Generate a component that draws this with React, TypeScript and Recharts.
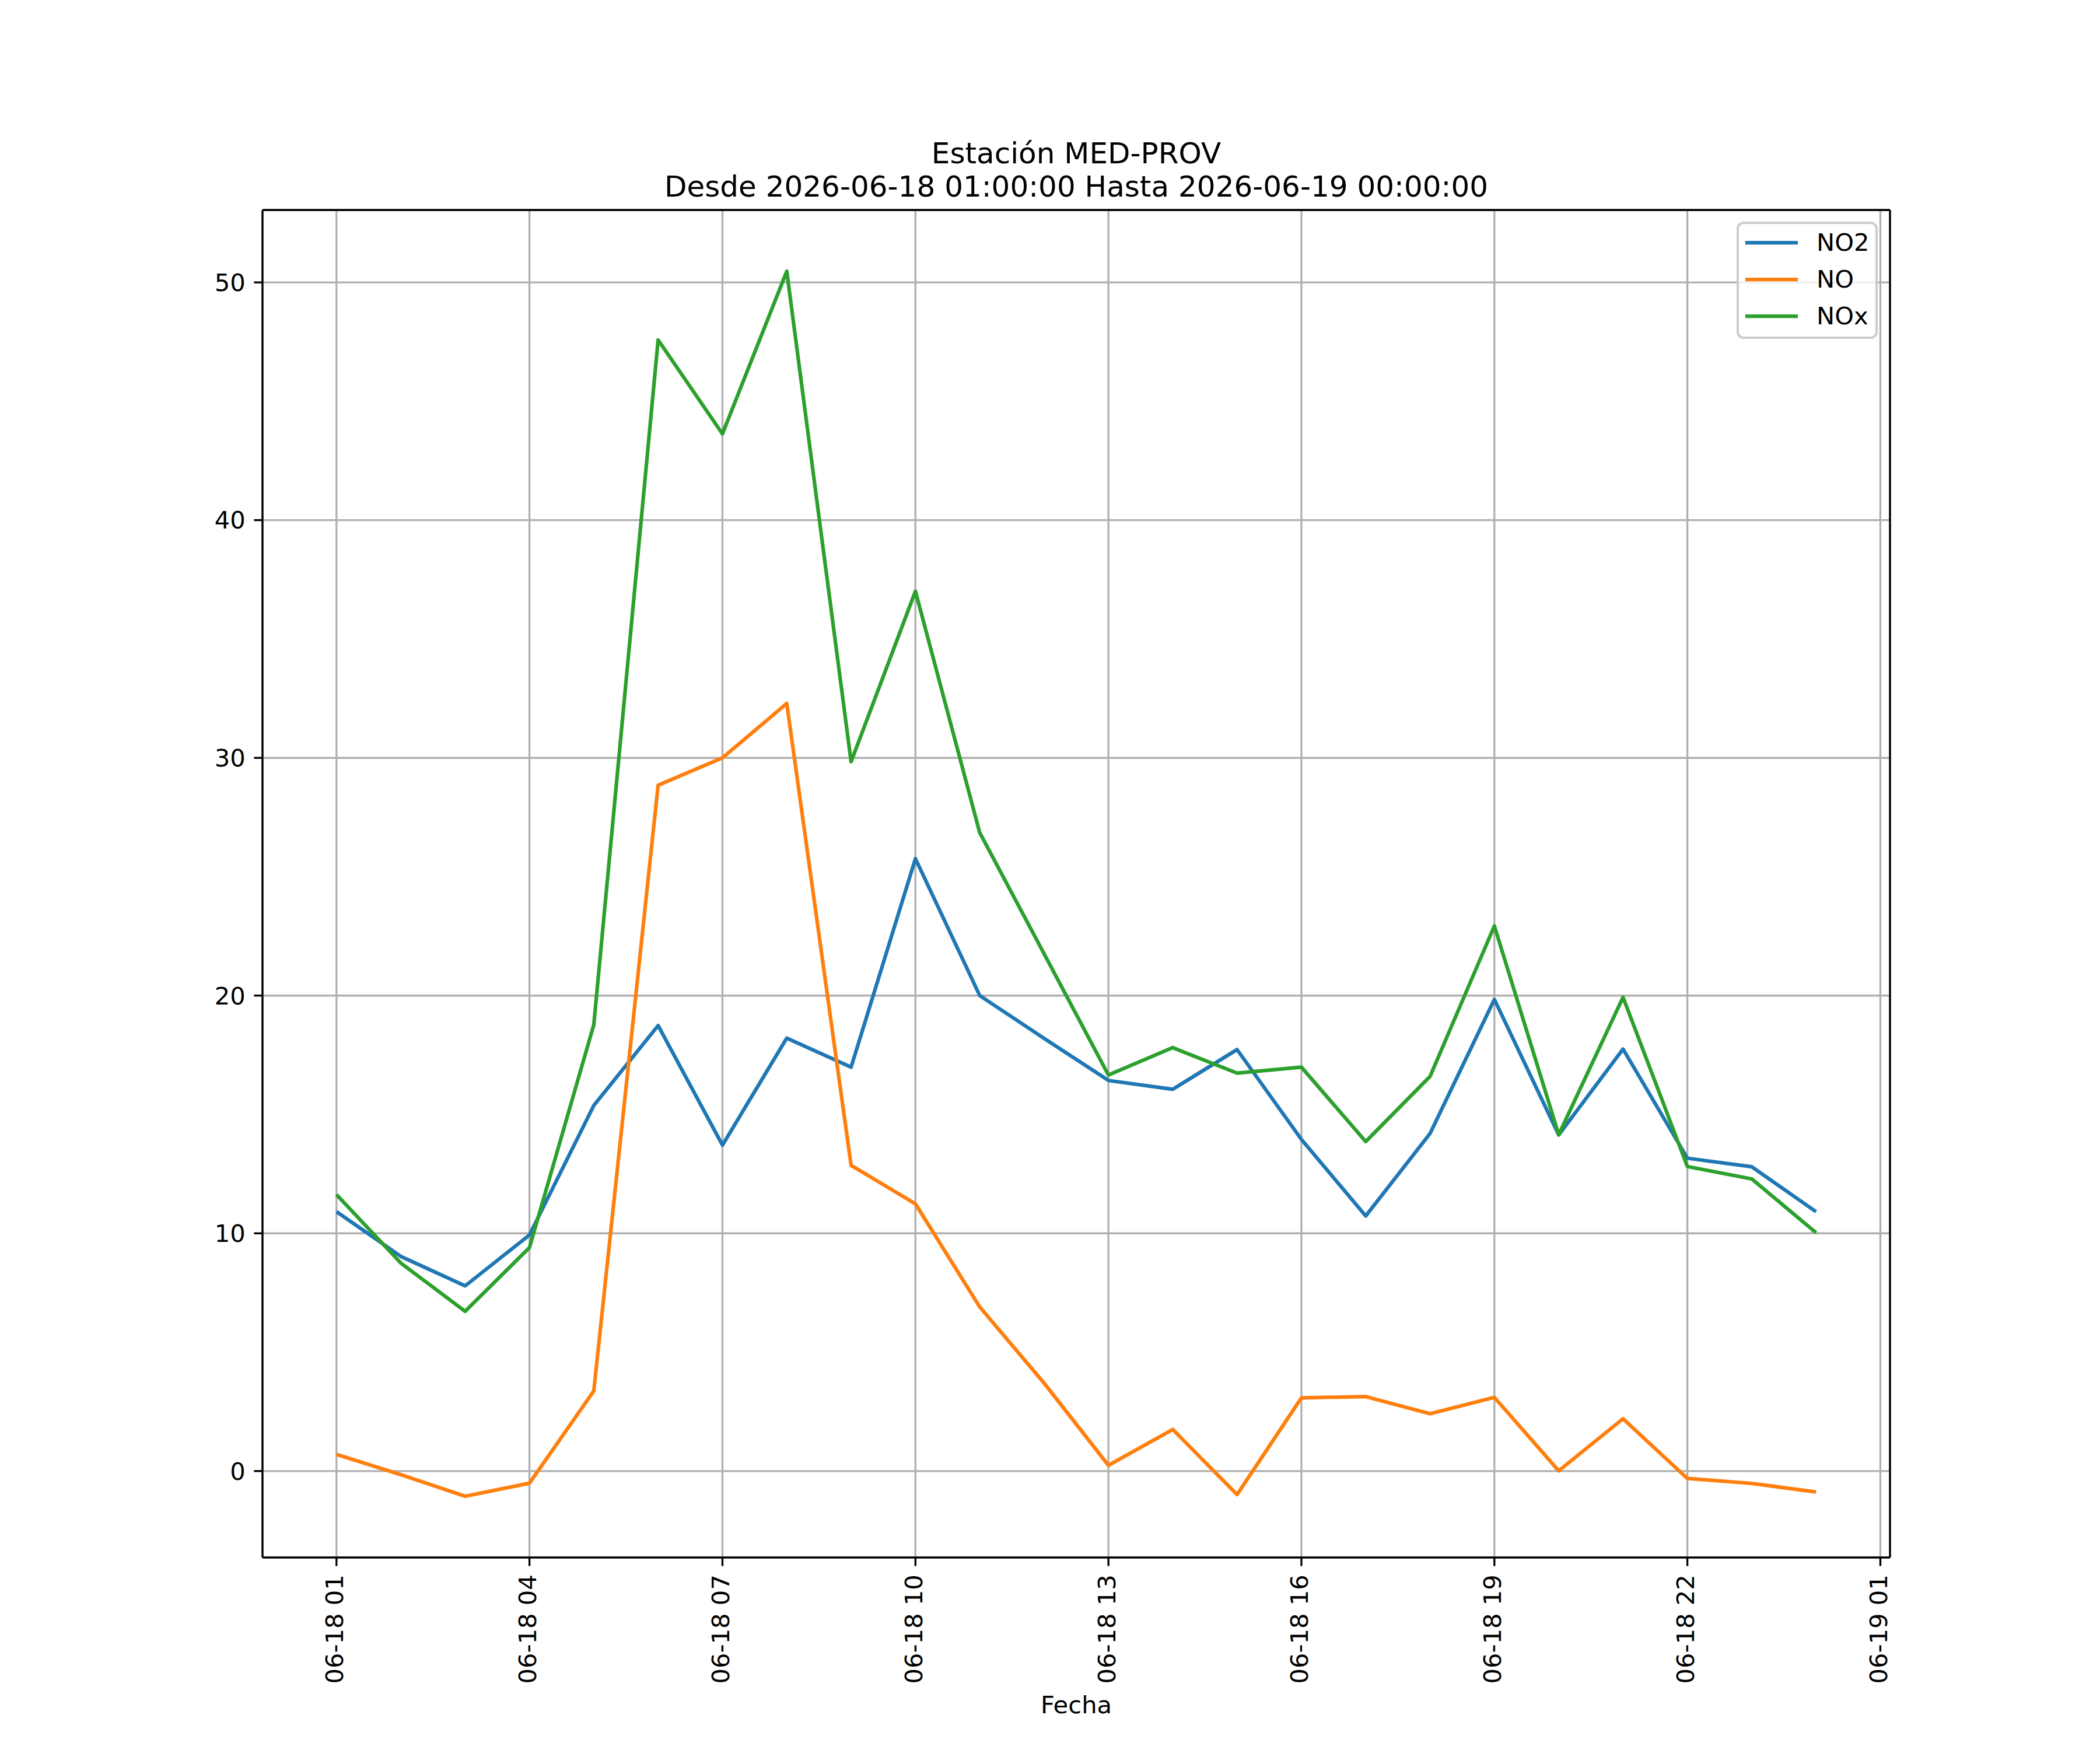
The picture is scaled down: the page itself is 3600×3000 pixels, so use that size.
import React from 'react';
import {
  LineChart,
  Line,
  XAxis,
  YAxis,
  CartesianGrid,
  Legend,
  ReferenceLine,
  Customized,
} from 'recharts';

// ---------- data ----------
const HOURS = ['01', '02', '03', '04', '05', '06', '07', '08', '09', '10', '11', '12',
  '13', '14', '15', '16', '17', '18', '19', '20', '21', '22', '23', '00'];

const NO2 = [10.91, 9.03, 7.79, 9.93, 15.38, 18.74, 13.71, 18.21, 16.99, 25.76, 20.0, 18.2,
  16.43, 16.06, 17.73, 13.95, 10.73, 14.2, 19.84, 14.14, 17.75, 13.16, 12.8, 10.91];

const NO = [0.7, -0.15, -1.06, -0.51, 3.37, 28.85, 30.0, 32.29, 12.86, 11.24, 6.9, 3.7,
  0.24, 1.75, -0.99, 3.08, 3.13, 2.41, 3.1, 0.01, 2.2, -0.31, -0.52, -0.88];

const NOX = [11.63, 8.75, 6.72, 9.4, 18.77, 47.58, 43.63, 50.47, 29.84, 37.01, 26.85, 21.76,
  16.66, 17.81, 16.74, 16.99, 13.86, 16.6, 22.93, 14.15, 19.93, 12.81, 12.29, 10.03];

const X_TICKS = [0, 3, 6, 9, 12, 15, 18, 21, 24];
const X_TICK_LABELS = ['06-18 01', '06-18 04', '06-18 07', '06-18 10', '06-18 13',
  '06-18 16', '06-18 19', '06-18 22', '06-19 01'];
const Y_TICKS = [0, 10, 20, 30, 40, 50];

const TITLE_1 = 'Estación MED-PROV';
const TITLE_2 = 'Desde 2026-06-18 01:00:00 Hasta 2026-06-19 00:00:00';
const X_LABEL = 'Fecha';

const SERIES = [
  { key: 'NO2', color: '#1f77b4' },
  { key: 'NO', color: '#ff7f0e' },
  { key: 'NOx', color: '#2ca02c' },
];

// ---------- derived ----------
const rows = HOURS.map((h, i) => ({ idx: i, hour: h, NO2: NO2[i], NO: NO[i], NOx: NOX[i] }));

const allVals = [...NO2, ...NO, ...NOX];
const vMin = Math.min(...allVals);
const vMax = Math.max(...allVals);
const yPad = (vMax - vMin) * 0.05;
const Y_MIN = vMin - yPad;
const Y_MAX = vMax + yPad;
const xPad = (HOURS.length - 1) * 0.05;
const X_MIN = -xPad;
const X_MAX = HOURS.length - 1 + xPad;

// ---------- styles ----------
const FONT = 'DejaVu Sans';
const FS = 41.67;
const LW = 6.25;
const THIN = 3.33;

const XTick = (props: any) => {
  const { x, y, payload } = props;
  const i = X_TICKS.indexOf(payload.value);
  const label = i >= 0 ? X_TICK_LABELS[i] : String(payload.value);
  return (
    <text
      x={x}
      y={y}
      dy={11.5}
      transform={`rotate(-90, ${x}, ${y})`}
      textAnchor="end"
      fontFamily={FONT}
      fontSize={FS}
      fill="#000"
    >
      {label}
    </text>
  );
};

const Titles = () => (
  <g>
    <text x={1845} y={280} textAnchor="middle" fontFamily={FONT} fontSize={50} fill="#000">
      {TITLE_1}
    </text>
    <text x={1845} y={337} textAnchor="middle" fontFamily={FONT} fontSize={50} fill="#000">
      {TITLE_2}
    </text>
    <text x={1845} y={2937} textAnchor="middle" fontFamily={FONT} fontSize={FS} fill="#000">
      {X_LABEL}
    </text>
  </g>
);

const LegendBox = (props: any) => {
  const payload = props.payload || [];
  const ordered = SERIES.map((s) => {
    const p = payload.find((q: any) => q.value === s.key || q.dataKey === s.key);
    return { value: s.key, color: p ? p.color : s.color };
  });
  return (
    <svg width={250} height={210} style={{ display: 'block' }}>
      <rect x={5} y={4} width={238} height={197} rx={10} ry={10}
        fill="#ffffff" fillOpacity={0.8} stroke="#cccccc" strokeWidth={4.17} />
      {ordered.map((p: any, i: number) => {
        const ly = 38 + i * 63;
        return (
          <g key={i}>
            <line x1={18} x2={108} y1={ly} y2={ly} stroke={p.color} strokeWidth={LW} />
            <text x={140} y={ly + 14} fontFamily={FONT} fontSize={FS} fill="#000">
              {p.value}
            </text>
          </g>
        );
      })}
    </svg>
  );
};

export default function App() {
  return (
    <div style={{ position: 'absolute', left: 0, top: 0, width: 3600, height: 3000, background: '#fff' }}>
      <LineChart
        width={3600}
        height={3000}
        data={rows}
        margin={{ top: 360, right: 360, bottom: 30, left: 350 }}
      >
        <CartesianGrid stroke="#b0b0b0" strokeWidth={THIN} />
        <XAxis
          dataKey="idx"
          type="number"
          domain={[X_MIN, X_MAX]}
          ticks={X_TICKS}
          interval={0}
          allowDataOverflow
          height={300}
          tick={<XTick />}
          tickSize={14.6}
          tickMargin={14.6}
          axisLine={{ stroke: '#000', strokeWidth: THIN }}
          tickLine={{ stroke: '#000', strokeWidth: THIN }}
        />
        <YAxis
          type="number"
          domain={[Y_MIN, Y_MAX]}
          ticks={Y_TICKS}
          interval={0}
          allowDataOverflow
          width={100}
          tick={{ fontFamily: FONT, fontSize: FS, fill: '#000' }}
          tickSize={14.6}
          tickMargin={14.6}
          axisLine={{ stroke: '#000', strokeWidth: THIN }}
          tickLine={{ stroke: '#000', strokeWidth: THIN }}
        />
        <ReferenceLine y={Y_MAX} stroke="#000" strokeWidth={THIN} ifOverflow="visible" />
        <ReferenceLine x={X_MAX} stroke="#000" strokeWidth={THIN} ifOverflow="visible" />
        {SERIES.map((s) => (
          <Line
            key={s.key}
            type="linear"
            dataKey={s.key}
            name={s.key}
            stroke={s.color}
            strokeWidth={LW}
            strokeLinejoin="round"
            dot={false}
            activeDot={false}
            isAnimationActive={false}
          />
        ))}
        <Legend
          layout="vertical"
          align="center"
          verticalAlign="middle"
          content={<LegendBox />}
          wrapperStyle={{ position: 'absolute', left: 2974, top: 378, width: 250, height: 210 }}
        />
        <Customized component={Titles} />
      </LineChart>
    </div>
  );
}
